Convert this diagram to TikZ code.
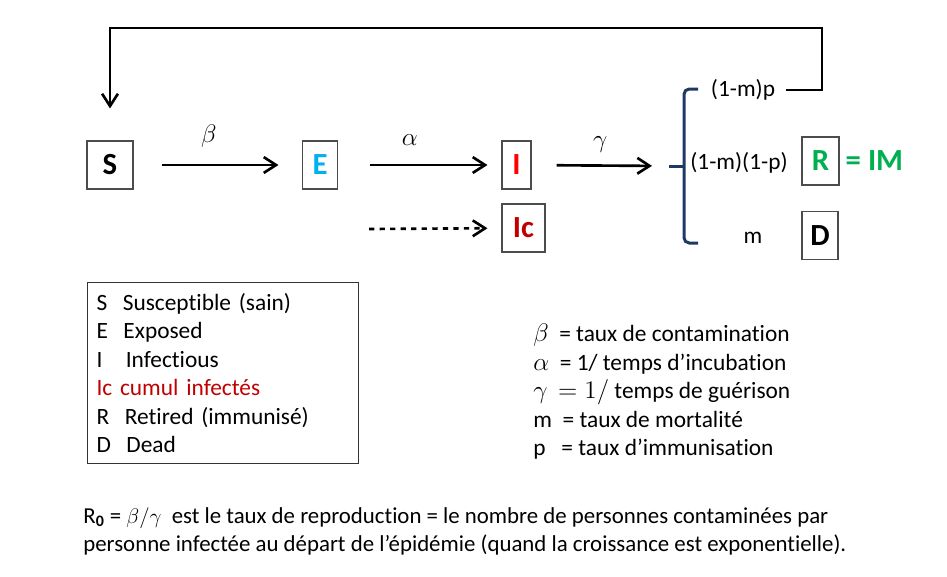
\documentclass[tikz,border=0pt]{standalone}
\usepackage{fontspec}
\setmainfont{Carlito}[Ligatures={NoCommon,NoContextual}]
\usetikzlibrary{arrows.meta, calc}
\definecolor{cyanE}{HTML}{00B0F0}
\definecolor{redI}{HTML}{FF0000}
\definecolor{darkred}{HTML}{C00000}
\definecolor{greenR}{HTML}{00B050}
\definecolor{navy}{HTML}{1F3864}
\tikzset{
  comp/.style={draw=black!70, line width=0.6pt, minimum height=0.96cm,
    inner sep=2pt, font=\fontsize{17.5}{21}\selectfont\bfseries},
  flow/.style={line width=1.5pt, ->},
  brace/.style={draw=navy, line width=1.7pt, rounded corners=3pt},
  txt/.style={font=\fontsize{13.3}{16.2}\selectfont}
}

\begin{document}
\begin{tikzpicture}[x=0.02cm, y=-0.02cm, >={Straight Barb[length=7pt,width=9pt]}]
\useasboundingbox (0,0) rectangle (947,576);
\node[comp, minimum width=0.92cm] at (110, 165) (S) {S};
\node[comp, minimum width=0.7cm, text=cyanE] at (320, 165) (E) {E};
\node[comp, minimum width=0.58cm, text=redI] at (516.5, 165) (I) {I};
\node[comp, minimum width=0.86cm, text=darkred] at (523.5, 228) (Ic) {Ic};
\node[comp, minimum width=0.74cm, text=greenR] at (820.5, 161) (R) {R};
\node[comp, minimum width=0.72cm] at (820, 235.5) (D) {D};
\node[anchor=west, text=greenR, font=\fontsize{17.5}{21}\selectfont\bfseries]
  at (R.east) (IM) {= IM};
\coordinate (dstart) at (369, 229);
\coordinate (brk) at (669, 166);
\node[txt] at (743, 90) (pTop) {(1-m)p};
\node[txt] at (739, 163) (pMid) {(1-m)(1-p)};
\node[txt] at (753, 238) (pBot) {m};
\path (S) edge[flow, shorten <=0.56cm, shorten >=0.47cm]
  node[txt, above=0.2cm, xshift=-0.18cm] {$\beta$} (E);
\path (E) edge[flow, shorten <=0.63cm, shorten >=0.28cm]
  node[txt, above=0.25cm, xshift=-0.2cm] {$\alpha$} (I);
\path (dstart) edge[flow, dashed, shorten >=0.28cm] (Ic);
\path (I) edge[flow, shorten <=0.5cm, shorten >=0.34cm]
  node[txt, above=0.12cm] {$\gamma$} (brk);
\draw[brace] (698, 89) -- (684, 89) -- (684, 243) -- (698, 243);
\draw[brace] (brk) -- (684, 166);
\draw[flow, shorten <=0.1cm, shorten >=0.64cm] (pTop.east) -| (822, 28) -| (S.north);
\node[txt, draw=black!80, line width=0.6pt, anchor=north west,
  text width=5.06cm, inner xsep=0.18cm, minimum height=3.62cm, align=left]
  at (87, 282) (legend) {S\ \ Susceptible (sain)\\
E\ \ Exposed\\
I\ \ \ Infectious\\
\textcolor{darkred}{Ic cumul infectés}\\
R\ \ Retired (immunisé)\\
D\ \ Dead};
\node[txt, anchor=west, align=left, inner sep=0pt] at (533, 392) (rates)
  {$\beta$\ \ = taux de contamination\\
$\alpha$\ \ = 1/ temps d’incubation\\
$\gamma$\ \ $=1/$ temps de guérison\\
m\ \ = taux de mortalité\\
p\ \ \ = taux d’immunisation};
\node[anchor=west, align=left, inner sep=0pt, font=\fontsize{13}{16}\selectfont]
  at (83, 531) (rzero)
  {R\textsubscript{\textbf{0}} = $\beta/\gamma$\ \ est le taux de reproduction = le nombre de personnes contaminées par\\
personne infectée au départ de l’épidémie (quand la croissance est exponentielle).};
\end{tikzpicture}
\end{document}
